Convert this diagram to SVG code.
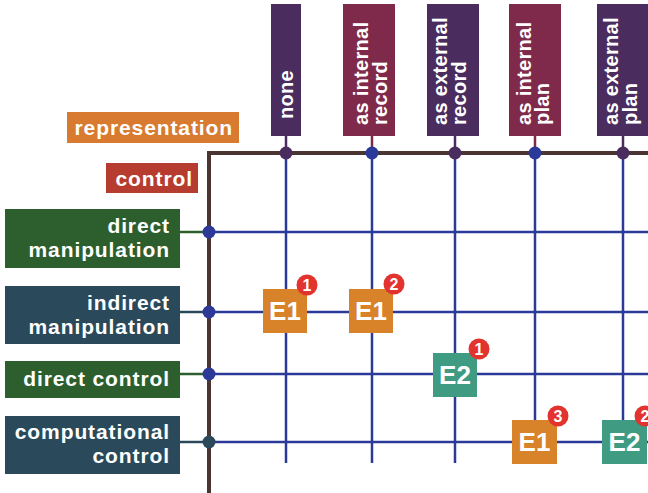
<svg xmlns="http://www.w3.org/2000/svg" width="648" height="493" viewBox="0 0 648 493">
  <defs>
    <style>
      .lbl { font-family: "Liberation Sans", Arial, sans-serif; font-weight: bold; fill: #ffffff; }
      .side { font-size: 21px; letter-spacing: 0.9px; text-anchor: end; }
      .head { font-size: 20px; letter-spacing: 0.3px; }
      .ebox { font-size: 26px; text-anchor: middle; }
      .badge-t { font-size: 16px; text-anchor: middle; }
      .grid { stroke: #2b3a98; stroke-width: 2.5; fill: none; }
      .frame { stroke: #4b3533; stroke-width: 4; fill: none; }
      .purple { fill: #4b2c5e; }
      .maroon { fill: #7f2a4a; }
      .green { fill: #2d5e2e; }
      .slate { fill: #2a4a5b; }
      .e1 { fill: #d8822a; }
      .e2 { fill: #3f9c82; }
      .badge { fill: #e2332f; }
    </style>
  </defs>

  <!-- connectors: grid lines, frame and stems -->
  <g id="connectors">
    <!-- column lines -->
    <line class="grid" x1="286" y1="153" x2="286" y2="463"/>
    <line class="grid" x1="372" y1="153" x2="372" y2="463"/>
    <line class="grid" x1="455" y1="153" x2="455" y2="463"/>
    <line class="grid" x1="535" y1="153" x2="535" y2="463"/>
    <line class="grid" x1="623" y1="153" x2="623" y2="463"/>
    <!-- row lines -->
    <line class="grid" x1="208" y1="232" x2="648" y2="232"/>
    <line class="grid" x1="208" y1="312" x2="648" y2="312"/>
    <line class="grid" x1="208" y1="374" x2="648" y2="374"/>
    <line class="grid" x1="208" y1="442" x2="648" y2="442"/>
    <!-- row stems -->
    <line x1="180" y1="232" x2="208" y2="232" stroke="#2d5e2e" stroke-width="2.5"/>
    <line x1="180" y1="312" x2="208" y2="312" stroke="#2a4a5b" stroke-width="2.5"/>
    <line x1="180" y1="374" x2="208" y2="374" stroke="#2d5e2e" stroke-width="2.5"/>
    <line x1="180" y1="442" x2="208" y2="442" stroke="#2a4a5b" stroke-width="2.5"/>
    <!-- column stems -->
    <line x1="286" y1="136" x2="286" y2="153" stroke="#4b2c5e" stroke-width="2.5"/>
    <line x1="372" y1="136" x2="372" y2="153" stroke="#7f2a4a" stroke-width="2.5"/>
    <line x1="455" y1="136" x2="455" y2="153" stroke="#4b2c5e" stroke-width="2.5"/>
    <line x1="535" y1="136" x2="535" y2="153" stroke="#7f2a4a" stroke-width="2.5"/>
    <line x1="623" y1="136" x2="623" y2="153" stroke="#4b2c5e" stroke-width="2.5"/>
    <!-- frame -->
    <path class="frame" d="M648 153 H209 V493"/>
    <!-- junction dots -->
    <circle cx="286" cy="153" r="6.5" fill="#4b2c5e"/>
    <circle cx="372" cy="153" r="6.5" fill="#2b3a98"/>
    <circle cx="455" cy="153" r="6.5" fill="#4b2c5e"/>
    <circle cx="535" cy="153" r="6.5" fill="#2b3a98"/>
    <circle cx="623" cy="153" r="6.5" fill="#4b2c5e"/>
    <circle cx="209" cy="232" r="6.5" fill="#2b3a98"/>
    <circle cx="209" cy="312" r="6.5" fill="#2b3a98"/>
    <circle cx="209" cy="374" r="6.5" fill="#2b3a98"/>
    <circle cx="209" cy="442" r="6.5" fill="#2a4a5b"/>
  </g>

  <!-- axis titles -->
  <g id="representation">
    <rect x="67" y="112" width="172" height="31" fill="#d87a30"/>
    <text class="lbl side" x="233" y="135">representation</text>
  </g>
  <g id="control">
    <rect x="106" y="163" width="92" height="30" fill="#b53c2f"/>
    <text class="lbl side" x="193" y="186">control</text>
  </g>

  <!-- row headers -->
  <g id="row-direct-manipulation">
    <rect class="green" x="5" y="209" width="175" height="59"/>
    <text class="lbl side" x="170" y="233">direct</text>
    <text class="lbl side" x="170" y="257">manipulation</text>
  </g>
  <g id="row-indirect-manipulation">
    <rect class="slate" x="5" y="286" width="175" height="58"/>
    <text class="lbl side" x="170" y="310">indirect</text>
    <text class="lbl side" x="170" y="334">manipulation</text>
  </g>
  <g id="row-direct-control">
    <rect class="green" x="5" y="361" width="175" height="37"/>
    <text class="lbl side" x="170" y="386">direct control</text>
  </g>
  <g id="row-computational-control">
    <rect class="slate" x="5" y="416" width="175" height="58"/>
    <text class="lbl side" x="170" y="439">computational</text>
    <text class="lbl side" x="170" y="463">control</text>
  </g>

  <!-- column headers -->
  <g id="col-none">
    <rect class="purple" x="271" y="4" width="30" height="132"/>
    <text class="lbl head" transform="translate(293 119) rotate(-90)">none</text>
  </g>
  <g id="col-internal-record">
    <rect class="maroon" x="343" y="4" width="52" height="132"/>
    <text class="lbl head" transform="translate(368 125) rotate(-90)">as internal</text>
    <text class="lbl head" transform="translate(387 125) rotate(-90)">record</text>
  </g>
  <g id="col-external-record">
    <rect class="purple" x="427" y="4" width="52" height="132"/>
    <text class="lbl head" transform="translate(447 125) rotate(-90)">as external</text>
    <text class="lbl head" transform="translate(466 125) rotate(-90)">record</text>
  </g>
  <g id="col-internal-plan">
    <rect class="maroon" x="509" y="4" width="52" height="132"/>
    <text class="lbl head" transform="translate(531 125) rotate(-90)">as internal</text>
    <text class="lbl head" transform="translate(549 125) rotate(-90)">plan</text>
  </g>
  <g id="col-external-plan">
    <rect class="purple" x="597" y="4" width="52" height="132"/>
    <text class="lbl head" transform="translate(618 125) rotate(-90)">as external</text>
    <text class="lbl head" transform="translate(637 125) rotate(-90)">plan</text>
  </g>

  <!-- example markers -->
  <g id="e1-a">
    <rect class="e1" x="263" y="289" width="44" height="44"/>
    <text class="lbl ebox" x="285" y="320">E1</text>
    <circle class="badge" cx="307" cy="285" r="10.5"/>
    <text class="lbl badge-t" x="307" y="291">1</text>
  </g>
  <g id="e1-b">
    <rect class="e1" x="349" y="289" width="44" height="44"/>
    <text class="lbl ebox" x="371" y="320">E1</text>
    <circle class="badge" cx="394" cy="284" r="10.5"/>
    <text class="lbl badge-t" x="394" y="290">2</text>
  </g>
  <g id="e2-a">
    <rect class="e2" x="433" y="353" width="44" height="44"/>
    <text class="lbl ebox" x="455" y="384">E2</text>
    <circle class="badge" cx="479" cy="349" r="10.5"/>
    <text class="lbl badge-t" x="479" y="355">1</text>
  </g>
  <g id="e1-c">
    <rect class="e1" x="512" y="420" width="45" height="44"/>
    <text class="lbl ebox" x="534.5" y="451">E1</text>
    <circle class="badge" cx="558" cy="416" r="10.5"/>
    <text class="lbl badge-t" x="558" y="422">3</text>
  </g>
  <g id="e2-b">
    <rect class="e2" x="602" y="420" width="45" height="44"/>
    <text class="lbl ebox" x="624.5" y="451">E2</text>
    <circle class="badge" cx="645" cy="416" r="10.5"/>
    <text class="lbl badge-t" x="645" y="422">2</text>
  </g>
</svg>
